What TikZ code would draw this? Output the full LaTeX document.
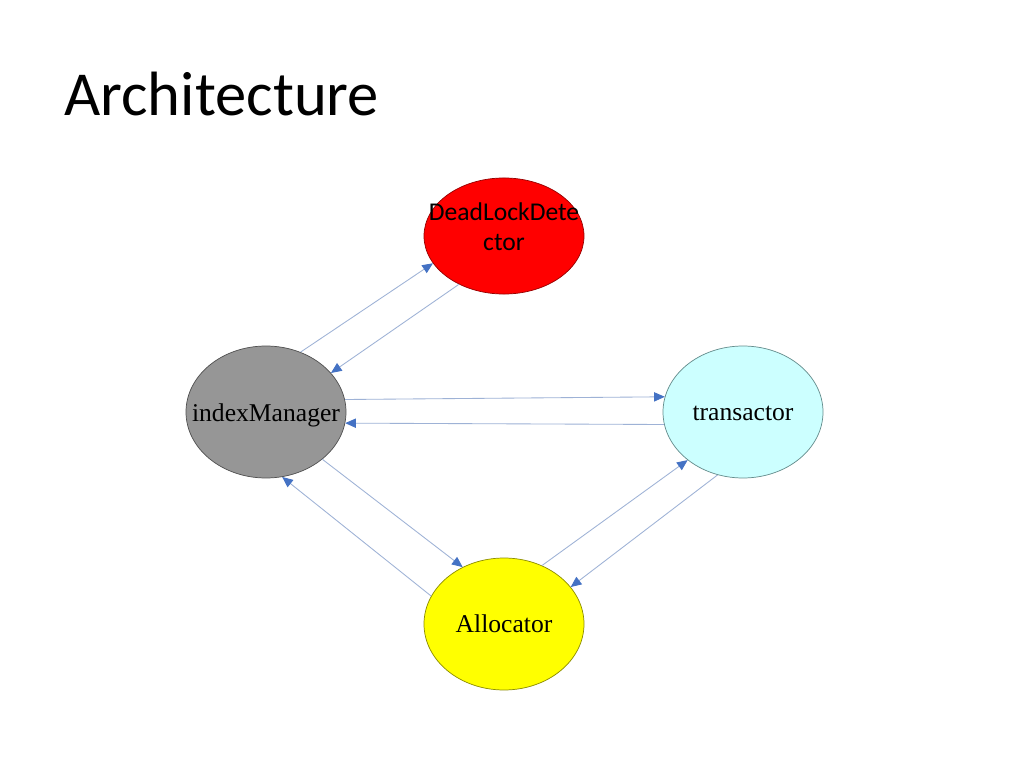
\documentclass[tikz,border=0pt]{standalone}
\usepackage{fontspec}
\setmainfont{Liberation Serif}
\newfontfamily\calibri{Carlito}
\usepackage{tikz}
\usetikzlibrary{shapes}
\usetikzlibrary{arrows.meta}
\definecolor{linkline}{RGB}{158,178,214}
\definecolor{linktip}{RGB}{68,114,196}
\definecolor{dlfill}{RGB}{255,0,0}
\definecolor{dlline}{RGB}{150,0,0}
\definecolor{imfill}{RGB}{150,150,150}
\definecolor{imline}{RGB}{80,80,80}
\definecolor{trfill}{RGB}{204,255,255}
\definecolor{trline}{RGB}{100,140,140}
\definecolor{alfill}{RGB}{255,255,0}
\definecolor{alline}{RGB}{140,140,0}
\begin{document}
\begin{tikzpicture}[x=0.703125pt, y=-0.703125pt,
	blob/.style={ellipse, line width=0.5pt, minimum width=112.5pt, minimum height=92.8pt, inner sep=0pt},
	link/.style={draw=linkline, line width=0.6pt, -{Triangle[length=7.5pt, width=6.5pt, color=linktip]}},
	word/.style={font=\fontsize{18}{21}\selectfont, inner sep=0pt}]
				\useasboundingbox[fill=white] (0,0) rectangle (1024,768);
				\node[anchor=base west, inner sep=0pt, font=\calibri\fontsize{44}{53}\selectfont] (title) at (64,116) {Architecture};
				
				\node[blob, fill=dlfill, draw=dlline, minimum height=81.6pt] (dl) at (504,236) {};
				\node[blob, fill=imfill, draw=imline] (im) at (266,412) {};
				\node[blob, fill=trfill, draw=trline] (tr) at (743,412) {};
				\node[blob, fill=alfill, draw=alline] (al) at (504,624) {};
				
				\node[word, align=center, font=\calibri\fontsize{18}{21}\selectfont] (dltext) at (504,227) {DeadLockDete\\ctor};
				\node[word, anchor=base] (imtext) at (266,421) {indexManager};
				\node[word, anchor=base] (trtext) at (743,420) {transactor};
				\node[word, anchor=base] (altext) at (504,632) {Allocator};
				
				\draw[link] (im.60) -- (dl.201);
				\draw[link] (dl.227) -- (im.31);
				\draw[link] (im.9) -- (tr.169);
				\draw[link] (tr.189) -- (im.352);
				\draw[link] (im.320) -- (al.126);
				\draw[link] (al.159) -- (im.284);
				\draw[link] (al.57) -- (tr.221);
				\draw[link] (tr.248) -- (al.29);
			\end{tikzpicture}
\end{document}
